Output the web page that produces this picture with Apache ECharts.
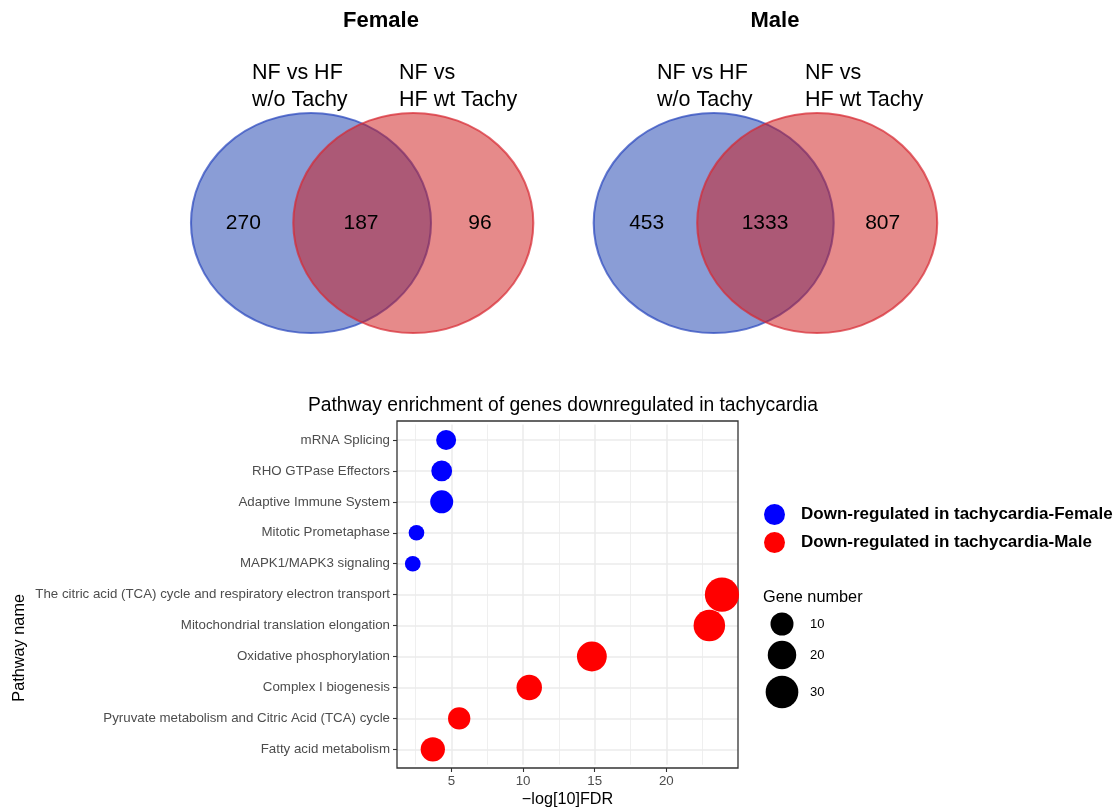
<!DOCTYPE html>
<html>
<head>
<meta charset="utf-8">
<script src="https://cdn.jsdelivr.net/npm/echarts@6/dist/echarts.min.js"></script>
<style>html,body{margin:0;padding:0;background:#fff;}#c{width:1120px;height:811px;}</style>
</head>
<body>
<div id="c"></div>
<script>
// ---------- DATA ----------
const vennGroups = ['Female', 'Male'];
const vennSetNames = ['NF vs HF\nw/o Tachy', 'NF vs\nHF wt Tachy'];
const femaleCounts = [270, 187, 96];   // only A, A∩B, only B
const maleCounts = [453, 1333, 807];

const femalePathways = ['mRNA Splicing', 'RHO GTPase Effectors', 'Adaptive Immune System', 'Mitotic Prometaphase', 'MAPK1/MAPK3 signaling'];
const femaleFDR = [4.63, 4.32, 4.32, 2.56, 2.30];
const femaleGenes = [6, 7, 10, 2, 2];

const malePathways = ['The citric acid (TCA) cycle and respiratory electron transport', 'Mitochondrial translation elongation', 'Oxidative phosphorylation', 'Complex I biogenesis', 'Pyruvate metabolism and Citric Acid (TCA) cycle', 'Fatty acid metabolism'];
const maleFDR = [23.88, 23.0, 14.8, 10.43, 5.54, 3.7];
const maleGenes = [34, 27, 23, 14, 9, 12];

const xMajorTicks = [5, 10, 15, 20];
const xMinorTicks = [2.5, 7.5, 12.5, 17.5, 22.5];
const sizeBreaks = [10, 20, 30];

const femaleName = 'Down-regulated in tachycardia-Female';
const maleName = 'Down-regulated in tachycardia-Male';

// ---------- LAYOUT ----------
const FONT = 'Liberation Sans, Arial, Helvetica, sans-serif';
const categories = femalePathways.concat(malePathways);
const sizeOf = n => 9.75 + 4.19 * Math.sqrt(n);
const XMIN = 1.2, XMAX = 25.0;

const vennLayouts = [
  {cx: [311, 413.3], labelX: [243.3, 361, 480], setX: [252, 399], titleX: 381},
  {cx: [713.7, 817.2], labelX: [646.7, 765, 882.7], setX: [657, 805], titleX: 775}
];
const vennCY = 223, vennW = 240, vennH = 220, labelY = 223.5;
const vennCounts = [femaleCounts, maleCounts];

const chart = echarts.init(document.getElementById('c'), null, {renderer: 'canvas'});

const titles = [];
const series = [];

vennGroups.forEach((g, gi) => {
  const L = vennLayouts[gi];
  titles.push({text: g, left: L.titleX, top: 10, textAlign: 'center', padding: 0,
    textStyle: {fontFamily: FONT, fontSize: 22, fontWeight: 'bold', color: '#000'}});
  vennSetNames.forEach((s, si) => {
    titles.push({text: s, left: L.setX[si], top: 60, padding: 0,
      textStyle: {fontFamily: FONT, fontSize: 21.5, fontWeight: 'normal', color: '#000', lineHeight: 26.5}});
  });
  series.push({
    type: 'scatter', xAxisIndex: 3, yAxisIndex: 3, silent: true, z: 1,
    symbol: 'circle', symbolSize: [vennW, vennH],
    itemStyle: {color: 'rgba(21,59,173,0.5)', borderColor: 'rgba(40,70,190,0.7)', borderWidth: 2, opacity: 1},
    data: [[L.cx[0], vennCY]]
  });
  series.push({
    type: 'scatter', xAxisIndex: 3, yAxisIndex: 3, silent: true, z: 2,
    symbol: 'circle', symbolSize: [vennW, vennH],
    itemStyle: {color: 'rgba(205,21,21,0.5)', borderColor: 'rgba(215,40,50,0.7)', borderWidth: 2, opacity: 1},
    data: [[L.cx[1], vennCY]]
  });
  series.push({
    type: 'scatter', xAxisIndex: 3, yAxisIndex: 3, silent: true, z: 3,
    symbol: 'circle', symbolSize: 1,
    itemStyle: {color: 'rgba(0,0,0,0)', opacity: 1},
    label: {show: true, position: 'inside', formatter: p => String(p.value[2]),
      fontFamily: FONT, fontSize: 21, color: '#000'},
    data: vennCounts[gi].map((c, i) => [L.labelX[i], labelY, c])
  });
});

titles.push({text: 'Pathway enrichment of genes downregulated in tachycardia', left: 563, top: 396, textAlign: 'center', padding: 0,
  textStyle: {fontFamily: FONT, fontSize: 19.3, fontWeight: 'normal', color: '#000'}});
titles.push({text: 'Gene number', left: 763, top: 590, padding: 0,
  textStyle: {fontFamily: FONT, fontSize: 16.3, fontWeight: 'normal', color: '#000'}});

series.push({
  name: femaleName, type: 'scatter', xAxisIndex: 0, yAxisIndex: 0, z: 5,
  symbol: 'circle', itemStyle: {color: '#0000ff', opacity: 1},
  symbolSize: v => sizeOf(v[2]),
  data: femalePathways.map((p, i) => [femaleFDR[i], p, femaleGenes[i]])
});
series.push({
  name: maleName, type: 'scatter', xAxisIndex: 0, yAxisIndex: 0, z: 5,
  symbol: 'circle', itemStyle: {color: '#ff0000', opacity: 1},
  symbolSize: v => sizeOf(v[2]),
  data: malePathways.map((p, i) => [maleFDR[i], p, maleGenes[i]])
});
sizeBreaks.forEach(b => {
  series.push({name: String(b), type: 'scatter', xAxisIndex: 0, yAxisIndex: 0,
    symbol: 'circle', itemStyle: {color: '#000', opacity: 1}, data: []});
});

const sizeLegendCenters = [624, 655, 692];
const legends = [{
  data: [femaleName, maleName], orient: 'vertical', left: 764, top: 504, padding: 0,
  icon: 'circle', itemWidth: 21, itemHeight: 21, itemGap: 7, selectedMode: false,
  textStyle: {fontFamily: FONT, fontSize: 17, fontWeight: 'bold', color: '#000', padding: [0, 0, 0, 11]}
}];
sizeBreaks.forEach((b, i) => {
  const s = sizeOf(b);
  legends.push({
    data: [String(b)], left: 782 - s / 2, top: sizeLegendCenters[i] - s / 2, padding: 0,
    icon: 'circle', itemWidth: s, itemHeight: s, selectedMode: false,
    textStyle: {fontFamily: FONT, fontSize: 13, color: '#000', padding: [0, 0, 0, 810 - (782 + s / 2 + 5)]}
  });
});

const gridLineColor = '#ebebeb';
const hidden = {show: false};

const option = {
  animation: false,
  backgroundColor: '#fff',
  title: titles,
  legend: legends,
  grid: [
    {left: 397, width: 341, top: 424.5, height: 340.3, show: false},
    {left: 397, width: 341, top: 421, height: 347, show: true, z: 4,
     borderColor: '#333', borderWidth: 1.3, backgroundColor: 'transparent'},
    {left: 0, top: 0, width: 1120, height: 811, show: false}
  ],
  xAxis: [
    {type: 'value', gridIndex: 0, min: XMIN, max: XMAX,
     axisLine: hidden, axisLabel: hidden,
     axisTick: {show: false, customValues: xMajorTicks},
     splitLine: {show: true, lineStyle: {color: gridLineColor, width: 1.5}}},
    {type: 'value', gridIndex: 0, min: XMIN, max: XMAX, position: 'top',
     axisLine: hidden, axisLabel: hidden,
     axisTick: {show: false, customValues: xMinorTicks},
     splitLine: {show: true, lineStyle: {color: gridLineColor, width: 0.8}}},
    {type: 'value', gridIndex: 1, min: XMIN, max: XMAX,
     name: '\u2212log[10]FDR', nameLocation: 'middle', nameGap: 24,
     nameTextStyle: {fontFamily: FONT, fontSize: 16.2, color: '#000'},
     axisLine: hidden,
     axisTick: {show: true, length: 4, customValues: xMajorTicks, lineStyle: {color: '#333', width: 1.1}},
     axisLabel: {show: true, customValues: xMajorTicks, margin: 7, fontFamily: FONT, fontSize: 13.3, color: '#4d4d4d'},
     splitLine: hidden},
    {type: 'value', gridIndex: 2, min: 0, max: 1120, show: false}
  ],
  yAxis: [
    {type: 'category', gridIndex: 0, data: categories, inverse: true, boundaryGap: true,
     axisLine: hidden,
     axisTick: {show: true, alignWithLabel: true, length: 4, lineStyle: {color: '#333', width: 1.1}},
     axisLabel: {fontFamily: FONT, fontSize: 13.3, color: '#4d4d4d', margin: 7},
     splitLine: hidden},
    {type: 'value', gridIndex: 0, min: -0.5, max: categories.length - 0.5, inverse: true, position: 'right',
     axisLine: hidden, axisLabel: hidden,
     axisTick: {show: false, customValues: categories.map((c, i) => i)},
     splitLine: {show: true, lineStyle: {color: gridLineColor, width: 1.5}}},
    {type: 'value', gridIndex: 1, min: 0, max: 1, show: false},
    {type: 'value', gridIndex: 2, min: 0, max: 811, inverse: true, show: false}
  ],
  graphic: [{type: 'text', left: 12, top: 594, rotation: Math.PI / 2,
    style: {text: 'Pathway name', fontFamily: FONT, fontSize: 16.3, fill: '#000', textAlign: 'center', textVerticalAlign: 'middle'}}],
  series: series
};
chart.setOption(option);
</script>
</body>
</html>
